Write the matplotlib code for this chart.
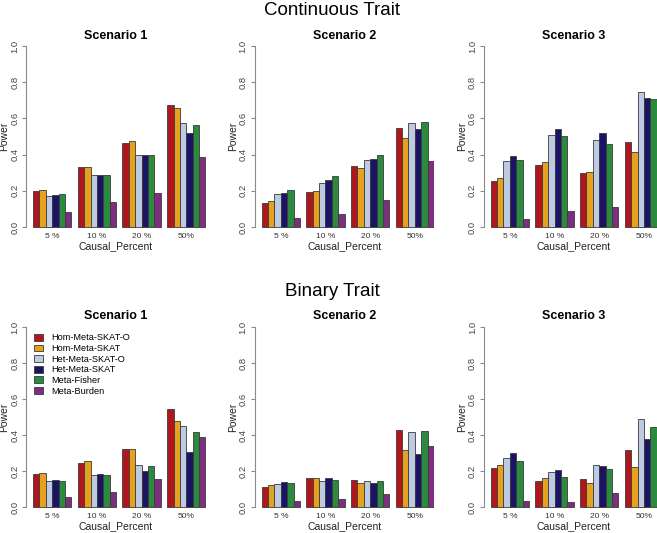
import matplotlib
matplotlib.use("Agg")
import matplotlib.pyplot as plt
import matplotlib.transforms as mtransforms
import numpy as np

plt.rcParams['font.family'] = ['Liberation Sans', 'DejaVu Sans']

methods = ["Hom-Meta-SKAT-O", "Hom-Meta-SKAT", "Het-Meta-SKAT-O",
           "Het-Meta-SKAT", "Meta-Fisher", "Meta-Burden"]
colors = ["#B0161E", "#E6A11F", "#BCCBE2", "#1B1464", "#2B8A3E", "#7D2E7E"]
percents = ["5 %", "10 %", "20 %", "50%"]
scenarios = ["Scenario 1", "Scenario 2", "Scenario 3"]

# power, rows = causal percent, cols = method
cont_s1 = [[0.200, 0.204, 0.173, 0.178, 0.182, 0.085],
           [0.331, 0.331, 0.289, 0.289, 0.289, 0.138],
           [0.465, 0.474, 0.395, 0.395, 0.395, 0.188],
           [0.673, 0.656, 0.577, 0.517, 0.563, 0.386]]
cont_s2 = [[0.133, 0.141, 0.181, 0.189, 0.204, 0.048],
           [0.196, 0.200, 0.244, 0.261, 0.281, 0.070],
           [0.338, 0.325, 0.368, 0.377, 0.397, 0.150],
           [0.546, 0.490, 0.573, 0.540, 0.579, 0.362]]
cont_s3 = [[0.252, 0.269, 0.367, 0.391, 0.369, 0.046],
           [0.341, 0.357, 0.509, 0.541, 0.502, 0.089],
           [0.296, 0.306, 0.481, 0.517, 0.459, 0.111],
           [0.472, 0.415, 0.744, 0.711, 0.706, 0.385]]
bin_s1 = [[0.183, 0.188, 0.144, 0.149, 0.146, 0.055],
          [0.247, 0.253, 0.177, 0.183, 0.175, 0.083],
          [0.323, 0.321, 0.232, 0.201, 0.227, 0.155],
          [0.544, 0.478, 0.450, 0.303, 0.417, 0.387]]
bin_s2 = [[0.111, 0.120, 0.125, 0.138, 0.135, 0.035],
          [0.160, 0.160, 0.146, 0.159, 0.151, 0.044],
          [0.149, 0.135, 0.144, 0.131, 0.144, 0.070],
          [0.426, 0.316, 0.417, 0.295, 0.423, 0.338]]
bin_s3 = [[0.216, 0.234, 0.271, 0.301, 0.255, 0.031],
          [0.144, 0.161, 0.194, 0.207, 0.166, 0.030],
          [0.155, 0.133, 0.231, 0.229, 0.212, 0.079],
          [0.316, 0.221, 0.487, 0.378, 0.443, 0.336]]

rows = [("Continuous Trait", [cont_s1, cont_s2, cont_s3]),
        ("Binary Trait", [bin_s1, bin_s2, bin_s3])]

W, H = 657, 533
fig = plt.figure(figsize=(W / 100, H / 100), dpi=100)

lefts = [0.0402, 0.3881, 0.7367]
width = 0.2729
row_box = [(0.5606, 0.3666), (0.0353, 0.3647)]
title_y = [(0.9719, 0.9263), (0.4452, 0.4009)]

n_m = len(methods)
group_w = n_m + 1
x0 = 1 + np.arange(len(percents))[:, None] * group_w + np.arange(n_m)[None, :]
total = len(percents) * group_w - 1

for r, (trait, data) in enumerate(rows):
    bottom, height = row_box[r]
    fig.text(0.5053, title_y[r][0], trait, ha='center', va='baseline', fontsize=13.5)
    for c, vals in enumerate(data):
        ax = fig.add_axes([lefts[c], bottom, width, height])
        vals = np.array(vals)
        for m in range(n_m):
            ax.bar(x0[:, m], vals[:, m], width=1, align='edge', color=colors[m],
                   edgecolor='#3a3a3a', linewidth=0.6, label=methods[m])
        ax.set_xlim(1 - 0.04 * (total - 1), total + 0.04 * (total - 1))
        ax.set_ylim(-0.04, 1.04)
        for s in ['top', 'right', 'bottom']:
            ax.spines[s].set_visible(False)
        ax.spines['left'].set_bounds(0, 1)
        ax.spines['left'].set_color('#8a8a8a')
        ax.spines['left'].set_linewidth(0.8)
        ax.set_xticks([])
        ax.set_yticks(np.arange(0, 1.01, 0.2))
        ax.set_yticklabels(["%.1f" % v for v in np.arange(0, 1.01, 0.2)],
                           rotation=90, va='center')
        ax.tick_params(axis='y', length=3, width=0.8, color='#8a8a8a', pad=2.2,
                       labelsize=6.8, labelcolor='#444444')
        trans = mtransforms.blended_transform_factory(ax.transData, ax.transData)
        for g, lab in enumerate(percents):
            ax.text(x0[g, 0] + n_m / 2, -0.061, lab, transform=trans, ha='center',
                    va='baseline', fontsize=6, color='#333333')
        ax.text((1 + total) / 2, -0.123, "Causal_Percent", transform=trans,
                ha='center', va='baseline', fontsize=7.5, color='#222222')
        ax.text(-0.1227, 0.5, "Power", transform=mtransforms.blended_transform_factory(
            ax.transAxes, ax.transData), rotation=90, ha='center', va='center',
            fontsize=7.5, color='#222222')
        fig.text(lefts[c] + width / 2, title_y[r][1], scenarios[c], ha='center',
                 va='baseline', fontsize=9, fontweight='bold')
        if r == 1 and c == 0:
            ax.legend(loc='upper left', bbox_to_anchor=(0.0446, 0.93), frameon=False,
                      fontsize=6.6, handlelength=0.9, handleheight=0.75,
                      handletextpad=0.9, labelspacing=0.18, borderpad=0,
                      borderaxespad=0)

fig.savefig("out.png", dpi=100)
